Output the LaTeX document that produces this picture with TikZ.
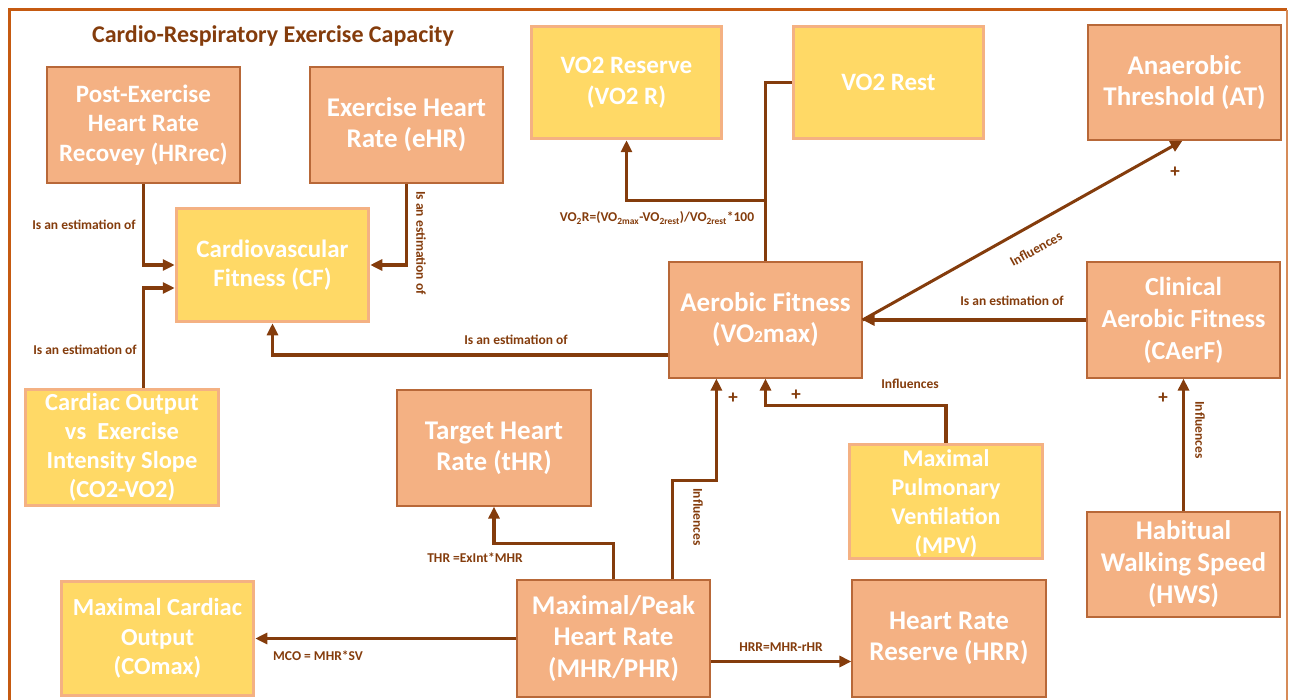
\documentclass[tikz,border=0pt]{standalone}
\usepackage{fontspec}
\setmainfont{Carlito}
\usetikzlibrary{arrows.meta,calc}
\definecolor{salm}{RGB}{244,177,131}
\definecolor{salmedge}{RGB}{184,104,56}
\definecolor{yel}{RGB}{255,217,102}
\definecolor{brn}{RGB}{132,60,12}
\definecolor{frame}{RGB}{197,90,17}
\newcommand{\bxfont}[2]{\fontsize{#1}{#2}\selectfont\bfseries}
\begin{document}
\begin{tikzpicture}[x=1pt,y=-1pt,
  boxtext/.style={align=center,text=white,font=\bxfont{27}{31},inner sep=2pt},
  sbox/.style={boxtext,fill=salm,draw=salmedge,line width=1.2pt},
  ybox/.style={boxtext,fill=yel,draw=salm,line width=3.5pt},
  link/.style={draw=brn,line width=3.5pt},
  arr/.style={link,-{Triangle[length=12pt,width=11pt]}},
  lbl/.style={text=brn,font=\fontsize{13.5}{15}\selectfont\bfseries,inner sep=1pt},
  plus/.style={text=brn,font=\fontsize{19}{19}\selectfont\bfseries,inner sep=0pt}]
\useasboundingbox (0,0) rectangle (1289,700);
% outer frame
\draw[frame,line width=3pt] (9,720) -- (9,10) -- (1287,10);
\draw[frame!70,line width=1.5pt] (1287,10) -- (1287,720);

\node[text=brn,font=\fontsize{24}{28}\selectfont\bfseries] (title) at (273,36) {Cardio-Respiratory Exercise Capacity};

% boxes
\node[sbox,minimum width=193pt,minimum height=116pt,font=\bxfont{25}{29.5}] (hrrec) at (143.5,125) {Post-Exercise\\Heart Rate\\Recovey (HRrec)};
\node[sbox,minimum width=193pt,minimum height=116pt] (ehr) at (406.5,125) {Exercise Heart\\Rate (eHR)};
\node[ybox,minimum width=192pt,minimum height=113pt,font=\bxfont{25}{29}] (cf) at (272.5,265) {Cardiovascular\\Fitness (CF)};
\node[ybox,minimum width=190pt,minimum height=112pt,font=\bxfont{25}{31}] (vo2r) at (626.5,82.5) {VO2 Reserve\\(VO2 R)};
\node[ybox,minimum width=190pt,minimum height=112pt,font=\bxfont{25}{31}] (vo2rest) at (888.5,82.5) {VO2 Rest};
\node[sbox,minimum width=193pt,minimum height=115pt] (at) at (1184.5,82.5) {Anaerobic\\Threshold (AT)};
\node[sbox,minimum width=193pt,minimum height=116pt] (vo2max) at (765.5,320) {Aerobic Fitness\\(VO{\fontsize{17}{17}\selectfont 2}max)};
\node[sbox,minimum width=193pt,minimum height=116pt,font=\bxfont{26}{32}] (caerf) at (1183.5,320) {Clinical\\Aerobic Fitness\\(CAerF)};
\node[ybox,minimum width=193pt,minimum height=116pt,font=\bxfont{24.5}{29}] (co2) at (122,447.5) {Cardiac Output\\vs~ Exercise\\Intensity Slope\\(CO2-VO2)};
\node[sbox,minimum width=194pt,minimum height=116pt] (thr) at (494,448) {Target Heart\\Rate (tHR)};
\node[ybox,minimum width=193pt,minimum height=114pt,font=\bxfont{24}{29},text depth=0pt] (mpv) at (946,501.5) {Maximal\\Pulmonary\\Ventilation\\(MPV)};
\node[sbox,minimum width=193pt,minimum height=105pt,font=\bxfont{27}{32}] (hws) at (1183.5,564.5) {Habitual\\Walking Speed\\(HWS)};
\node[ybox,minimum width=192pt,minimum height=114pt,font=\bxfont{24.5}{29.5}] (comax) at (157.5,638.5) {Maximal Cardiac\\Output\\(COmax)};
\node[sbox,minimum width=193pt,minimum height=117pt,font=\bxfont{27}{31.5}] (mhr) at (613.5,638.5) {Maximal/Peak\\Heart Rate\\(MHR/PHR)};
\node[sbox,minimum width=194pt,minimum height=117pt] (hrr) at (949,638.5) {Heart Rate\\Reserve (HRR)};

% connectors into cardiovascular fitness
\draw[arr] (hrrec.south) |- (cf.west);
\draw[arr] (ehr.south) |- (cf.east);
\draw[arr] (hrrec.south |- co2.north) |- ($(cf.west)+(0,23)$);
\draw[arr] ($(vo2max.west)+(0,35)$) -| (cf.south);

% VO2 reserve formula
\coordinate (vj) at ($(vo2max.north)+(0,-61)$);
\draw[link] (vo2rest.west) -| (vo2max.north);
\draw[arr] (vj) -| (vo2r.south);

% influences on / estimations of aerobic fitness
\draw[arr,line width=3pt] (vo2max.east) -- ($(at.south)+(-2,0)$);
\draw[arr] (caerf.west) -- (vo2max.east);
\draw[arr] (mpv.north) |- ($(vo2max.south)+(0,27)$) -- (vo2max.south);
\draw[arr] ($(mhr.north east)+(-38,0)$) |- ($(vo2max.south west)+(48,102)$) -- ($(vo2max.south west)+(48,0)$);
\draw[arr] (hws.north) -- (caerf.south);

% derived from maximal heart rate
\draw[arr] (mhr.north) |- ($(thr.south)+(0,37)$) -- (thr.south);
\draw[arr] (mhr.west) -- (comax.east);
\draw[arr] ($(mhr.east)+(0,23)$) -- ($(hrr.west)+(0,23)$);

% connector labels
\node[lbl] (l1) at (84,225) {Is an estimation of};
\node[lbl,rotate=-90] (l2) at (421,243) {Is an estimation of};
\node[lbl] (l3) at (85,350) {Is an estimation of};
\node[lbl] (l4) at (516,340) {Is an estimation of};
\node[lbl] (l5) at (657,218) {VO\textsubscript{2}R=(VO\textsubscript{2max}-VO\textsubscript{2rest})/VO\textsubscript{2rest}*100};
\node[lbl,rotate=29] (l6) at (1036,249) {Influences};
\node[plus] (p1) at (1175,172) {+};
\node[lbl] (l7) at (1012,301) {Is an estimation of};
\node[lbl] (l8) at (910,384) {Influences};
\node[plus] (p2) at (733,398) {+};
\node[plus] (p3) at (796,395) {+};
\node[plus] (p4) at (1163,398) {+};
\node[lbl,rotate=-90] (l9) at (1200,430) {Influences};
\node[lbl,rotate=-90] (l10) at (698,517) {Influences};
\node[lbl] (l11) at (475,558) {THR =ExInt*MHR};
\node[lbl] (l12) at (318,656) {MCO = MHR*SV};
\node[lbl] (l13) at (781,647) {HRR=MHR-rHR};
\end{tikzpicture}
\end{document}
